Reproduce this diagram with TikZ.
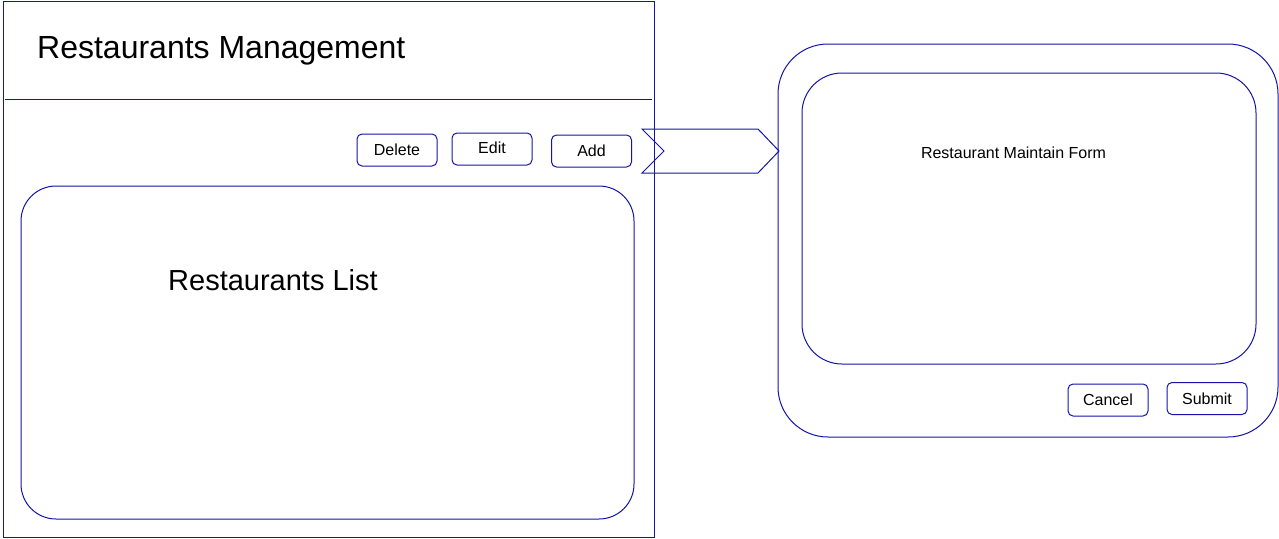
\documentclass[tikz,border=0pt]{standalone}
\usepackage{fontspec}
\setmainfont{Liberation Sans}
\definecolor{lineblue}{RGB}{20,20,170}
\begin{document}
\begin{tikzpicture}[x=1pt,y=-1pt,
  frame/.style={draw=lineblue,line width=1pt},
  btn/.style={frame,rounded corners=5pt,minimum width=80pt,minimum height=32pt,inner sep=0pt,font=\fontsize{16pt}{18pt}\selectfont},
  lbl/.style={inner sep=0pt,anchor=base west}]
\useasboundingbox (0,0) rectangle (1279,538);
\fill[white] (0,0) rectangle (1279,538);
% left window
\draw[frame] (3,1) rectangle (654,537);
\draw[frame] (5,99) -- (652,99);
\node[lbl,font=\fontsize{32pt}{36pt}\selectfont] (title) at (37,58) {Restaurants Management};
\node[btn] (delete) at (397,150) {Delete};
\node[btn] (edit) at (492,149) {\raisebox{2pt}{Edit}};
\node[btn] (add) at (591.5,151) {\raisebox{1pt}{Add}};
\draw[frame,rounded corners=35pt] (21,186) rectangle (634,519);
\node[lbl,font=\fontsize{29pt}{33pt}\selectfont] (list) at (168,290) {Restaurants List};
% chevron
\draw[frame,line join=miter] (642,129) -- (758,129) -- (779,151) -- (758,173) -- (642,173) -- (664,151) -- cycle;
% right dialog
\draw[frame,rounded corners=50pt] (778,44) rectangle (1278,437);
\draw[frame,rounded corners=40pt] (802,73) rectangle (1256,364);
\node[inner sep=0pt,font=\fontsize{16pt}{18pt}\selectfont] (form) at (1013.5,153) {Restaurant Maintain Form};
\node[btn] (cancel) at (1108,400) {Cancel};
\node[btn] (submit) at (1207,398.5) {Submit};
\end{tikzpicture}
\end{document}
